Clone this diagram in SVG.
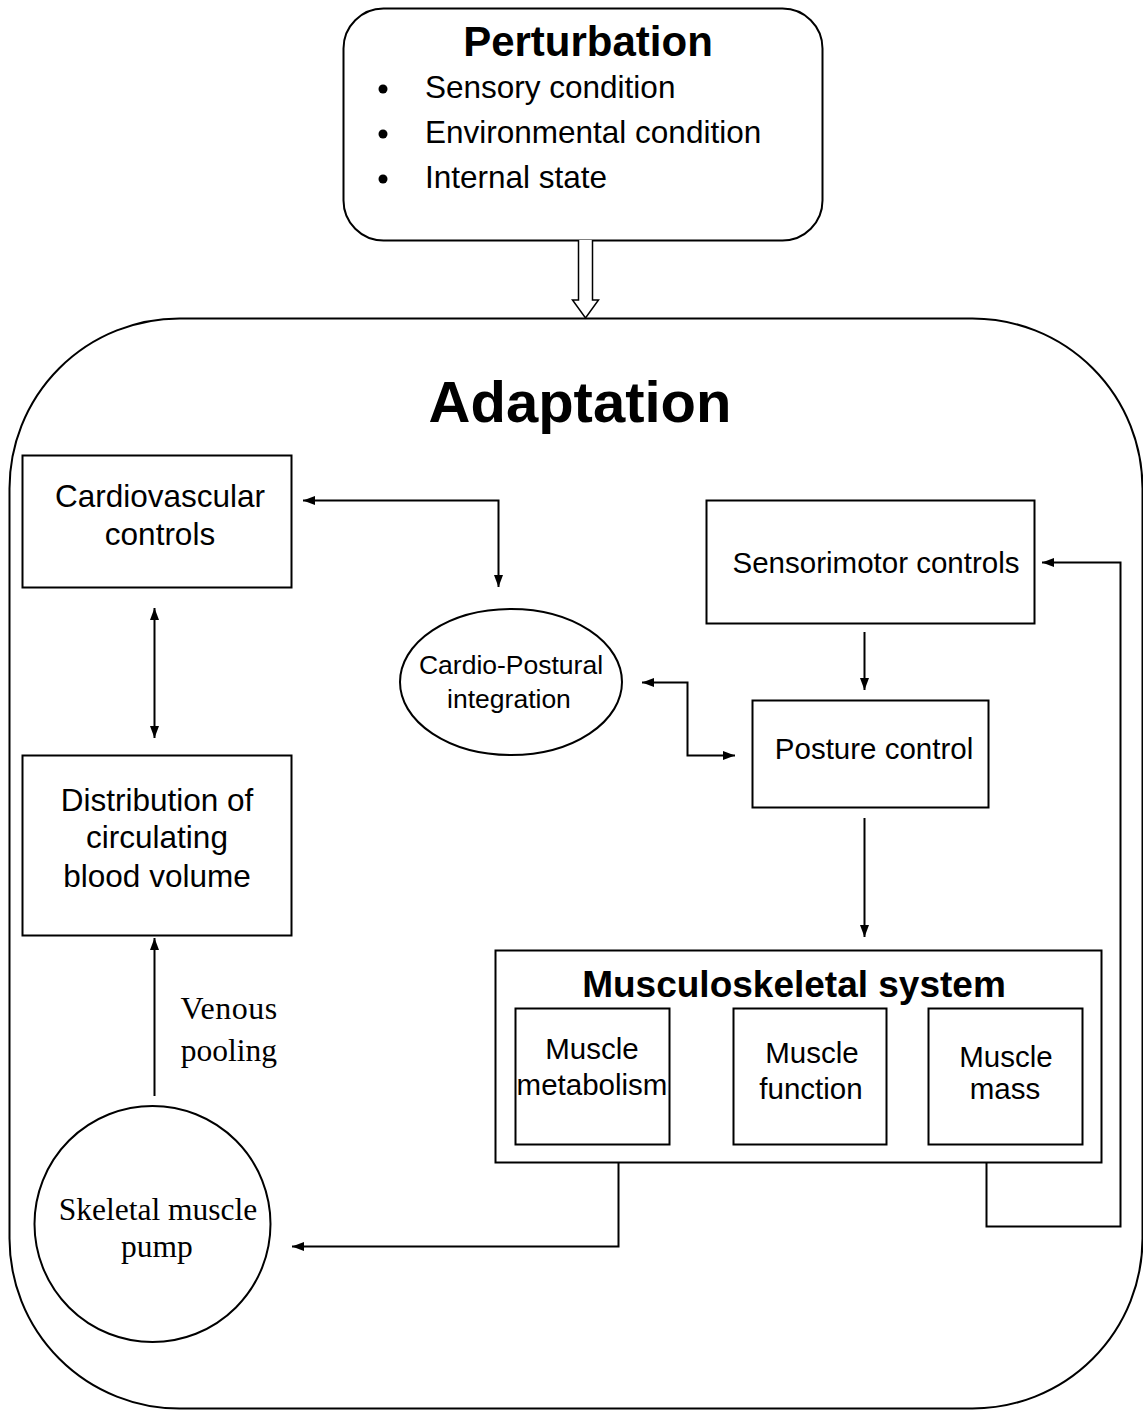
<svg xmlns="http://www.w3.org/2000/svg" width="1143" height="1412" viewBox="0 0 1143 1412">
<defs>
<style>
.box{fill:#fff;stroke:#000;stroke-width:2}
.ln{fill:none;stroke:#000;stroke-width:2}
.t{font-family:"Liberation Sans",Arial,sans-serif;fill:#000;text-anchor:middle}
.s{font-family:"Liberation Serif","Times New Roman",serif;fill:#000;text-anchor:middle}
</style>
<marker id="ah" viewBox="0 0 12 10" refX="12" refY="5" markerWidth="12" markerHeight="10" markerUnits="userSpaceOnUse" orient="auto-start-reverse">
<path d="M0,0.5 L12,5 L0,9.5 Z" fill="#000"/>
</marker>
</defs>
<rect width="1143" height="1412" fill="#fff"/>

<g id="adaptation">
<rect x="9.5" y="318.5" width="1133" height="1090" rx="170" ry="170" class="box"/>
<text x="580" y="422" class="t" font-size="58" font-weight="bold">Adaptation</text>
</g>

<g id="perturbation">
<rect x="343.5" y="8.5" width="479" height="232" rx="40" ry="40" class="box"/>
<text x="588" y="56" class="t" font-size="42" font-weight="bold">Perturbation</text>
<circle cx="383" cy="89" r="4.5" fill="#000"/>
<circle cx="383" cy="134" r="4.5" fill="#000"/>
<circle cx="383" cy="179" r="4.5" fill="#000"/>
<text x="425" y="98" font-family="Liberation Sans, Arial, sans-serif" font-size="31.5">Sensory condition</text>
<text x="425" y="143" font-family="Liberation Sans, Arial, sans-serif" font-size="31.5">Environmental condition</text>
<text x="425" y="188" font-family="Liberation Sans, Arial, sans-serif" font-size="31.5">Internal state</text>
</g>

<g id="cardiovascular">
<rect x="22.5" y="455.5" width="269" height="132" class="box"/>
<text x="160" y="507" class="t" font-size="31.5">Cardiovascular</text>
<text x="160" y="545" class="t" font-size="31.5">controls</text>
</g>

<g id="distribution">
<rect x="22.5" y="755.5" width="269" height="180" class="box"/>
<text x="157" y="811" class="t" font-size="31.5">Distribution of</text>
<text x="157" y="848" class="t" font-size="31.5">circulating</text>
<text x="157" y="887" class="t" font-size="31.5">blood volume</text>
</g>

<g id="pump">
<circle cx="152.5" cy="1224" r="118" class="box"/>
<text x="158" y="1220" class="s" font-size="31.5">Skeletal muscle</text>
<text x="157" y="1257" class="s" font-size="31.5">pump</text>
</g>

<g id="cardio-postural">
<ellipse cx="511" cy="682" rx="111" ry="73" class="box"/>
<text x="511" y="674" class="t" font-size="26.5">Cardio-Postural</text>
<text x="509" y="708" class="t" font-size="26.5">integration</text>
</g>

<g id="sensorimotor">
<rect x="706.5" y="500.5" width="328" height="123" class="box"/>
<text x="876" y="573" class="t" font-size="29.5">Sensorimotor controls</text>
</g>

<g id="posture">
<rect x="752.5" y="700.5" width="236" height="107" class="box"/>
<text x="874" y="759" class="t" font-size="29.5">Posture control</text>
</g>

<g id="musculoskeletal">
<rect x="495.5" y="950.5" width="606" height="212" class="box"/>
<text x="794" y="997" class="t" font-size="37" font-weight="bold">Musculoskeletal system</text>
</g>
<g id="muscle-metabolism">
<rect x="515.5" y="1008.5" width="154" height="136" class="box"/>
<text x="592" y="1059" class="t" font-size="29.5">Muscle</text>
<text x="592" y="1095" class="t" font-size="29.5">metabolism</text>
</g>
<g id="muscle-function">
<rect x="733.5" y="1008.5" width="153" height="136" class="box"/>
<text x="812" y="1063" class="t" font-size="29.5">Muscle</text>
<text x="811" y="1099" class="t" font-size="29.5">function</text>
</g>
<g id="muscle-mass">
<rect x="928.5" y="1008.5" width="154" height="136" class="box"/>
<text x="1006" y="1067" class="t" font-size="29.5">Muscle</text>
<text x="1005" y="1099" class="t" font-size="29.5">mass</text>
</g>

<g id="connectors">
<path d="M578.5,240 V300 H572.5 L585.5,318 L598.5,300 H592.5 V240" fill="#fff" stroke="#000" stroke-width="1.5"/>
<path d="M303,500.5 H498.5 V587" class="ln" marker-start="url(#ah)" marker-end="url(#ah)"/>
<path d="M154.5,608 V738" class="ln" marker-start="url(#ah)" marker-end="url(#ah)"/>
<path d="M154.5,1096 V938" class="ln" marker-end="url(#ah)"/>
<path d="M642,682.5 H687.5 V755.5 H735" class="ln" marker-start="url(#ah)" marker-end="url(#ah)"/>
<path d="M864.5,632 V690" class="ln" marker-end="url(#ah)"/>
<path d="M864.5,818 V937" class="ln" marker-end="url(#ah)"/>
<path d="M618.5,1162 V1246.5 H292" class="ln" marker-end="url(#ah)"/>
<path d="M986.5,1162 V1226.5 H1120.5 V562.5 H1042" class="ln" marker-end="url(#ah)"/>
<text x="229" y="1019" class="s" font-size="32" letter-spacing="0.5">Venous</text>
<text x="229" y="1061" class="s" font-size="31.5">pooling</text>
</g>
</svg>
